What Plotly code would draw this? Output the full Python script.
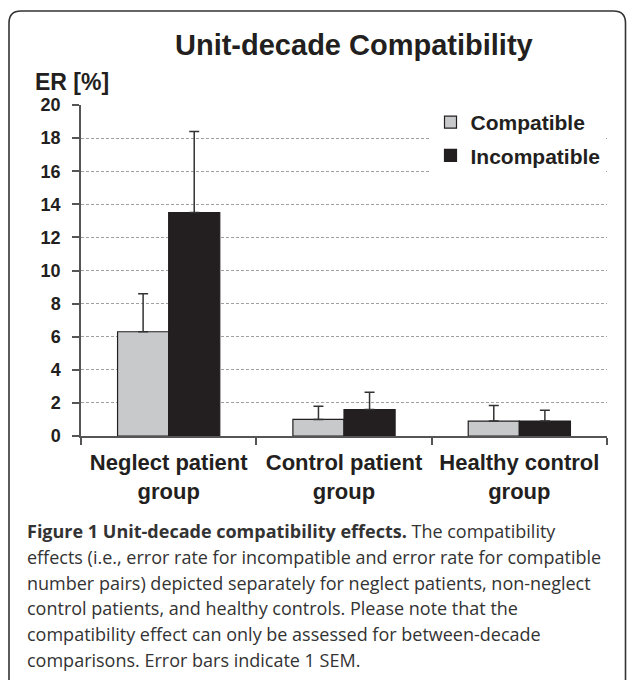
import plotly.graph_objects as go

# ---- data ----
groups = ["Neglect patient<br>group", "Control patient<br>group", "Healthy control<br>group"]
compatible = [6.3, 1.0, 0.9]
compatible_sem = [2.3, 0.8, 0.95]
incompatible = [13.5, 1.6, 0.9]
incompatible_sem = [4.9, 1.05, 0.65]
y_ticks = [0, 2, 4, 6, 8, 10, 12, 14, 16, 18, 20]

caption_lines = [
    "<b>Figure 1 Unit-decade compatibility effects.</b> The compatibility",
    "effects (i.e., error rate for incompatible and error rate for compatible",
    "number pairs) depicted separately for neglect patients, non-neglect",
    "control patients, and healthy controls. Please note that the",
    "compatibility effect can only be assessed for between-decade",
    "comparisons. Error bars indicate 1 SEM.",
]

W, H = 627, 680
L, R, T, B = 81, 20, 105, 244
PW, PH = W - L - R, H - T - B

def px(x):
    return (x - L) / PW

def py(y):
    return (H - B - y) / PH

DARK = "#231f20"
AXC = "#555555"
FONT = "Liberation Sans"

fig = go.Figure()
fig.add_trace(go.Bar(
    name="Compatible", x=groups, y=compatible, legendgroup="c",
    marker=dict(color="#c8c9cb", line=dict(color=DARK, width=1.2)),
    error_y=dict(type="data", symmetric=False, array=compatible_sem,
                 arrayminus=[0, 0, 0], color="#333333", thickness=1.5, width=5),
))
fig.add_trace(go.Bar(
    name="Incompatible", x=groups, y=incompatible, legendgroup="i",
    marker=dict(color=DARK, line=dict(color=DARK, width=1.2)),
    error_y=dict(type="data", symmetric=False, array=incompatible_sem,
                 arrayminus=[0, 0, 0], color="#333333", thickness=1.5, width=5),
))

# frame (rounded rectangle, bottom cut off)
x0, x1, y0, y1, r = 9, 625.5, 11, 700, 12
path = (f"M {px(x0)},{py(y1)} L {px(x0)},{py(y0 + r)} "
        f"Q {px(x0)},{py(y0)} {px(x0 + r)},{py(y0)} "
        f"L {px(x1 - r)},{py(y0)} Q {px(x1)},{py(y0)} {px(x1)},{py(y0 + r)} "
        f"L {px(x1)},{py(y1)}")

annotations = [
    dict(text="<b>Unit-decade Compatibility</b>", x=px(354), y=py(45),
         xref="paper", yref="paper", xanchor="center", yanchor="middle",
         showarrow=False, font=dict(family=FONT, size=29, color=DARK)),
    dict(text="<b>ER [%]</b>", x=px(33), y=py(82),
         xref="paper", yref="paper", xanchor="left", yanchor="middle",
         showarrow=False, font=dict(family=FONT, size=23, color=DARK)),
]
for i, line in enumerate(caption_lines):
    annotations.append(dict(
        text=line, x=px(25), y=py(531 + i * 25.8), xref="paper", yref="paper",
        xanchor="left", yanchor="middle", showarrow=False, align="left",
        font=dict(family="Open Sans", size=18, color="#333333")))

fig.update_layout(
    width=W, height=H,
    margin=dict(l=L, r=R, t=T, b=B, pad=0),
    paper_bgcolor="white", plot_bgcolor="white",
    barmode="group", bargap=0.417, bargroupgap=0,
    font=dict(family=FONT, color=DARK),
    showlegend=True,
    legend=dict(x=px(430.5), y=py(102), xanchor="left", yanchor="top",
                bgcolor="white", borderwidth=0, traceorder="grouped",
                tracegroupgap=3,
                font=dict(family=FONT, size=21, color=DARK, weight="bold")),
    shapes=[dict(type="path", path=path, xref="paper", yref="paper",
                 line=dict(color="#333333", width=1.6), layer="above")],
    annotations=annotations,
)
fig.update_yaxes(
    range=[0, 20], tickvals=y_ticks, ticks="outside", ticklen=7,
    tickwidth=1.5, tickcolor=AXC, showline=True, linecolor=AXC, linewidth=1.5,
    showgrid=True, gridcolor="#a0a0a0", gridwidth=1, griddash="3px,2px",
    zeroline=False, ticklabelstandoff=8,
    tickfont=dict(family=FONT, size=18, color=DARK, weight="bold"),
)
fig.update_xaxes(
    ticks="outside", tickson="boundaries", ticklen=7, tickwidth=1.5,
    tickcolor=AXC, showline=True, linecolor=AXC, linewidth=1.5,
    showgrid=False, ticklabelstandoff=6,
    tickfont=dict(family=FONT, size=22, color=DARK, weight="bold"),
)

fig.write_html("out.html", config={"displayModeBar": False},
               post_script="document.body.style.margin='0';")
